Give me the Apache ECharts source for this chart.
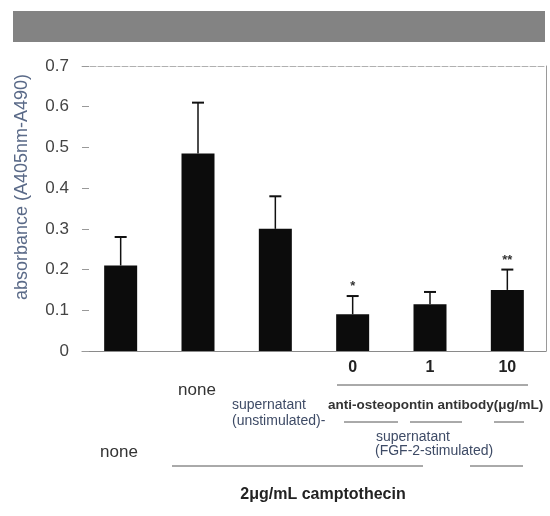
<!DOCTYPE html>
<html>
<head>
<meta charset="utf-8">
<script src="https://cdn.jsdelivr.net/npm/echarts@6/dist/echarts.min.js"></script>
<style>
  html, body { margin: 0; padding: 0; background: #fff; }
  #chart { width: 550px; height: 516px; }
</style>
</head>
<body>
<div id="chart"></div>
<script>
// Apoptosis assay: absorbance per treatment group
const categories = ['none', 'camptothecin', 'sup-unstim', 'ab0', 'ab1', 'ab10'];
const doseLabels = ['', '', '', '0', '1', '10'];
const means = [0.21, 0.485, 0.30, 0.09, 0.115, 0.15];
const errors = [0.07, 0.125, 0.08, 0.045, 0.03, 0.05];
const marks = ['', '', '', '*', '', '**'];
const yTicks = [0, 0.1, 0.2, 0.3, 0.4, 0.5, 0.6, 0.7];

const chart = echarts.init(document.getElementById('chart'), null, { renderer: 'canvas' });

const FONT = '"Liberation Sans", Arial, sans-serif';

const option = {
  animation: false,
  backgroundColor: '#ffffff',
  grid: { left: 82, right: 4, top: 66, bottom: 165 },
  xAxis: [
    {
      type: 'category',
      data: categories,
      axisLine: { show: true, lineStyle: { color: '#8a8a8a', width: 1 } },
      axisTick: { show: false },
      axisLabel: {
        margin: 9,
        formatter: (v, i) => doseLabels[i],
        fontFamily: FONT, fontSize: 16, fontWeight: 'bold', color: '#222'
      }
    },
    {
      type: 'category',
      data: categories,
      position: 'top',
      axisLine: { show: true, onZero: false, lineStyle: { color: '#b0b0b0', width: 1, type: [6, 2] } },
      axisTick: { show: false },
      axisLabel: { show: false }
    }
  ],
  yAxis: [
    {
      type: 'value',
      min: 0, max: 0.7, interval: 0.1,
      axisLine: { show: false },
      axisTick: { show: true, inside: true, length: 7, lineStyle: { color: '#999' } },
      splitLine: { show: false },
      axisLabel: {
        margin: 13,
        formatter: v => {
          const t = yTicks.find(x => Math.abs(x - v) < 1e-9);
          return t === 0 ? '0' : String(t);
        },
        fontFamily: FONT, fontSize: 17, color: '#444'
      }
    },
    {
      type: 'value',
      min: 0, max: 0.7, interval: 0.1,
      position: 'right',
      axisLine: { show: true, onZero: false, lineStyle: { color: '#9a9a9a', width: 1 } },
      axisTick: { show: false },
      axisLabel: { show: false },
      splitLine: { show: false }
    }
  ],
  series: [
    {
      type: 'bar',
      data: means,
      barWidth: 33,
      itemStyle: { color: '#0c0c0c' },
      z: 3
    },
    {
      type: 'custom',
      data: means.map((m, i) => [i, m, errors[i]]),
      z: 4,
      renderItem: (params, api) => {
        const i = api.value(0);
        const m = api.value(1);
        const e = api.value(2);
        const base = api.coord([i, m]);
        const top = api.coord([i, m + e]);
        const half = 6;
        const children = [
          { type: 'line', shape: { x1: base[0], y1: base[1], x2: top[0], y2: top[1] },
            style: { stroke: '#111', lineWidth: 1.5 } },
          { type: 'line', shape: { x1: top[0] - half, y1: top[1], x2: top[0] + half, y2: top[1] },
            style: { stroke: '#111', lineWidth: 2 } }
        ];
        if (marks[i]) {
          children.push({
            type: 'text',
            style: {
              text: marks[i], x: top[0], y: top[1] - 3,
              align: 'center', verticalAlign: 'bottom',
              font: 'bold 13px ' + FONT, fill: '#333'
            }
          });
        }
        return { type: 'group', children };
      }
    }
  ],
  graphic: [
    // header band
    { type: 'rect', shape: { x: 13, y: 11, width: 532, height: 31 },
      style: { fill: '#838383' }, silent: true },
    // y-axis title
    { type: 'text', x: 22, y: 187, rotation: Math.PI / 2,
      style: { text: 'absorbance (A405nm-A490)', align: 'center', verticalAlign: 'middle',
        font: '18px ' + FONT, fill: '#5a6a88' } },
    // dose group underline
    { type: 'line', shape: { x1: 337, y1: 385, x2: 528, y2: 385 },
      style: { stroke: '#555', lineWidth: 1 } },
    { type: 'text', x: 197, y: 390,
      style: { text: 'none', align: 'center', verticalAlign: 'middle',
        font: '17px ' + FONT, fill: '#333' } },
    { type: 'text', x: 232, y: 405,
      style: { text: 'supernatant', align: 'left', verticalAlign: 'middle',
        font: '14px ' + FONT, fill: '#3e4b66' } },
    { type: 'text', x: 232, y: 421,
      style: { text: '(unstimulated)-', align: 'left', verticalAlign: 'middle',
        font: '14px ' + FONT, fill: '#3e4b66' } },
    { type: 'text', x: 328, y: 405,
      style: { text: 'anti-osteopontin antibody(μg/mL)', align: 'left', verticalAlign: 'middle',
        font: 'bold 13.5px ' + FONT, fill: '#333' } },
    { type: 'line', shape: { x1: 344, y1: 422, x2: 398, y2: 422 },
      style: { stroke: '#555', lineWidth: 1 } },
    { type: 'line', shape: { x1: 410, y1: 422, x2: 462, y2: 422 },
      style: { stroke: '#555', lineWidth: 1 } },
    { type: 'line', shape: { x1: 494, y1: 422, x2: 524, y2: 422 },
      style: { stroke: '#555', lineWidth: 1 } },
    { type: 'text', x: 376, y: 437,
      style: { text: 'supernatant', align: 'left', verticalAlign: 'middle',
        font: '14px ' + FONT, fill: '#3e4b66' } },
    { type: 'text', x: 375, y: 451,
      style: { text: '(FGF-2-stimulated)', align: 'left', verticalAlign: 'middle',
        font: '14px ' + FONT, fill: '#3e4b66' } },
    { type: 'text', x: 119, y: 452,
      style: { text: 'none', align: 'center', verticalAlign: 'middle',
        font: '17px ' + FONT, fill: '#333' } },
    { type: 'line', shape: { x1: 172, y1: 466, x2: 423, y2: 466 },
      style: { stroke: '#555', lineWidth: 1 } },
    { type: 'line', shape: { x1: 470, y1: 466, x2: 523, y2: 466 },
      style: { stroke: '#555', lineWidth: 1 } },
    { type: 'text', x: 323, y: 495,
      style: { text: '2μg/mL camptothecin', align: 'center', verticalAlign: 'middle',
        font: 'bold 16px ' + FONT, fill: '#222' } }
  ]
};

chart.setOption(option);
</script>
</body>
</html>
